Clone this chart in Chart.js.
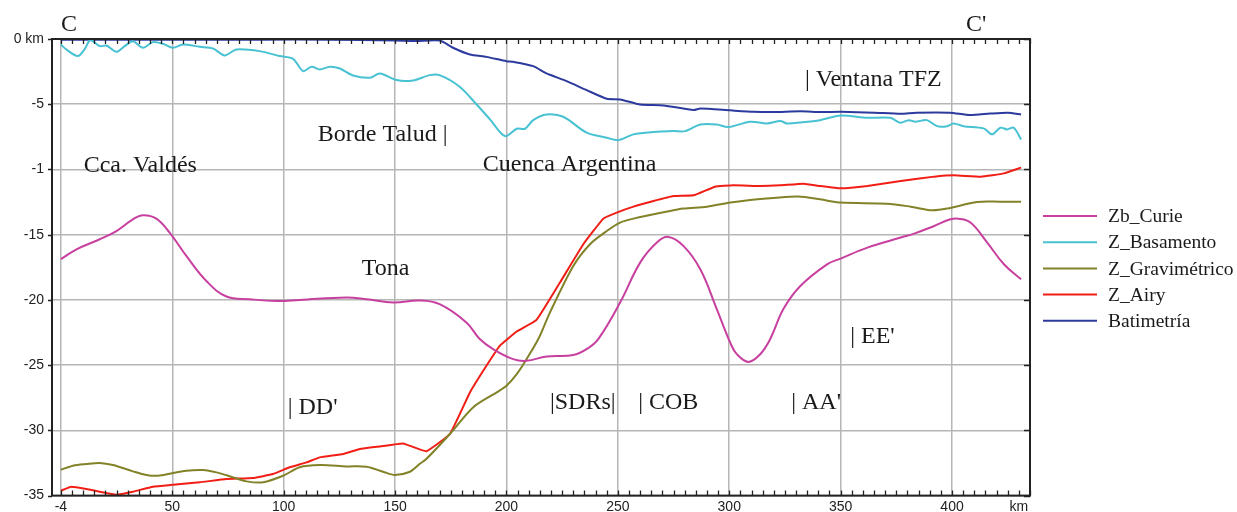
<!DOCTYPE html>
<html>
<head>
<meta charset="utf-8">
<script src="https://cdn.jsdelivr.net/npm/chart.js@4.4.1/dist/chart.umd.min.js"></script>
<style>
  body { margin: 0; background: #fff; }
  canvas { display: block; }
</style>
</head>
<body>
<canvas id="perfil" width="1237" height="512"></canvas>
<script>
// Perfil C - C' : distancia (km) y profundidad (km)
const curieKm = [0, 7, 17.4, 24.9, 32.3, 36.8, 42.8, 48.8, 56.3, 65.3, 74.3, 84.8, 96.8, 107.2, 128.2, 137.2, 149.2, 161, 170, 182, 188, 194, 203, 209, 218, 230, 236, 241.2, 251, 260, 267.5, 272.7, 279.4, 287, 294.4, 300.5, 303.4, 308.6, 313.9, 318.4, 324.3, 331.8, 343.9, 350, 362, 377, 383, 392, 399.3, 403, 408.3, 415.8, 423.3, 431];
const curieZ = [-16.88, -16.12, -15.35, -14.72, -13.82, -13.51, -13.77, -14.84, -16.63, -18.55, -19.74, -19.95, -20.08, -20.0, -19.82, -19.95, -20.2, -20.05, -20.33, -21.73, -23.0, -23.77, -24.54, -24.67, -24.33, -24.23, -23.77, -23.0, -20.2, -17.14, -15.6, -15.17, -15.86, -17.65, -20.7, -23.3, -24.16, -24.75, -24.16, -23.0, -20.7, -18.95, -17.27, -16.83, -15.99, -15.22, -14.92, -14.33, -13.82, -13.77, -14.07, -15.6, -17.27, -18.42];

const basKm = [0, 2.4, 7.6, 10.6, 13.2, 17.4, 20.4, 24.9, 28.6, 32.3, 36.8, 41.3, 45.8, 50.3, 54.8, 62.3, 68.3, 73.5, 78.8, 89.3, 98.2, 104.2, 108.7, 112.5, 116.2, 120.7, 125.2, 131.2, 138.7, 143.2, 150.7, 158, 165.6, 170, 179, 186.6, 192.6, 199.3, 204.6, 208.3, 212, 218, 225.5, 236, 245, 250.2, 257, 266, 275, 280.2, 287, 294.4, 299.6, 309.4, 316.9, 322.9, 325.9, 331.8, 340.8, 350, 362, 372.3, 376.8, 380.5, 383.5, 388.7, 393.3, 397.8, 400.7, 405.2, 414.2, 418, 421.7, 424.7, 427.7, 431];
const basZ = [-0.42, -0.8, -1.31, -0.8, -0.09, -0.55, -0.5, -0.98, -0.55, -0.17, -0.67, -0.24, -0.37, -0.67, -0.42, -0.6, -0.73, -1.26, -0.8, -0.93, -1.31, -1.52, -2.46, -2.13, -2.33, -2.13, -2.26, -2.8, -2.97, -2.64, -3.15, -3.18, -2.77, -2.77, -3.66, -5.02, -6.16, -7.44, -6.88, -6.88, -6.22, -5.78, -5.96, -7.18, -7.57, -7.75, -7.31, -7.13, -7.06, -7.06, -6.55, -6.55, -6.75, -6.34, -6.47, -6.29, -6.47, -6.4, -6.22, -5.86, -6.04, -6.04, -6.42, -6.22, -6.34, -6.22, -6.68, -6.68, -6.47, -6.68, -6.85, -7.31, -6.8, -6.93, -6.8, -7.7];

const gravKm = [0, 5.4, 11.4, 17.4, 23.4, 32.3, 38.3, 43.5, 50.3, 56.3, 63.8, 69.8, 77.3, 83.3, 90.8, 99.7, 107.2, 116.2, 128.2, 137.2, 144.6, 149.9, 156.7, 161, 164, 174.6, 185, 195.6, 200, 204.6, 209, 214.3, 219.5, 230, 237.5, 245, 251, 257, 272, 279.4, 290, 300.5, 309.4, 319.9, 331, 340.8, 350, 370.8, 381.4, 391, 397.8, 411.2, 421.7, 431];
const gravZ = [-33.02, -32.71, -32.58, -32.5, -32.66, -33.14, -33.42, -33.48, -33.27, -33.09, -33.04, -33.22, -33.6, -33.91, -33.98, -33.48, -32.83, -32.66, -32.76, -32.79, -33.17, -33.42, -33.17, -32.58, -32.2, -30.28, -28.24, -27.09, -26.58, -25.69, -24.54, -23.0, -20.97, -17.4, -15.73, -14.72, -14.07, -13.77, -13.23, -13.0, -12.85, -12.54, -12.34, -12.19, -12.08, -12.29, -12.54, -12.62, -12.85, -13.13, -13.0, -12.49, -12.47, -12.47];

const airyKm = [0, 4.7, 11.4, 17.4, 24.9, 32.3, 41.3, 50.3, 62.3, 74.3, 86.2, 95.2, 102.7, 110.2, 116.2, 126.7, 134.2, 143.2, 153.6, 164, 174.6, 183.6, 191, 197, 204.6, 213.5, 224, 234.5, 243.5, 249.5, 257, 266, 275, 284, 293.6, 301.9, 313.9, 322.9, 333.3, 340.8, 350, 362, 377, 392, 401, 413, 423.3, 431];
const airyZ = [-34.62, -34.32, -34.49, -34.7, -34.93, -34.7, -34.32, -34.17, -33.98, -33.73, -33.65, -33.35, -32.83, -32.45, -32.07, -31.81, -31.43, -31.23, -31.0, -31.6, -30.28, -27.09, -25.05, -23.52, -22.42, -21.53, -18.67, -15.73, -13.77, -13.31, -12.85, -12.42, -12.04, -11.98, -11.32, -11.22, -11.27, -11.22, -11.09, -11.27, -11.45, -11.27, -10.89, -10.55, -10.45, -10.55, -10.3, -9.86];

const batiKm = [0, 30, 60, 90, 120, 150, 160, 170, 176, 183.6, 191, 200, 203, 212, 218, 227, 236, 245, 251, 260, 270.5, 284, 287, 300.5, 311, 320, 332, 341, 350, 365, 377, 384, 399, 408, 417, 425, 431];
const batiZ = [-0.05, -0.05, -0.05, -0.05, -0.05, -0.12, -0.15, -0.12, -0.67, -1.19, -1.37, -1.7, -1.75, -2.08, -2.64, -3.23, -3.92, -4.58, -4.63, -5.02, -5.09, -5.45, -5.32, -5.47, -5.58, -5.6, -5.53, -5.6, -5.58, -5.65, -5.73, -5.65, -5.65, -5.83, -5.72, -5.65, -5.78];

const xTicks = [0, 50, 100, 150, 200, 250, 300, 350, 400, 430];
const xTickLabels = ['-4', '50', '100', '150', '200', '250', '300', '350', '400', 'km'];
const yTicks = [0, -5, -10, -15, -20, -25, -30, -35];
const yTickLabels = ['0 km', '-5', '-1', '-15', '-20', '-25', '-30', '-35'];

// etiquetas del perfil (km, profundidad)
const rotulos = [
  { t: 'C', km: 0, z: 1.1 },
  { t: "C'", km: 406.3, z: 1.1 },
  { t: '| Ventana TFZ', km: 334, z: -3.1 },
  { t: 'Borde Talud |', km: 115.3, z: -7.3 },
  { t: 'Cca. Valdés', km: 10.2, z: -9.7 },
  { t: 'Cuenca Argentina', km: 189.4, z: -9.62 },
  { t: 'Tona', km: 135, z: -17.6 },
  { t: "| DD'", km: 101.8, z: -28.26 },
  { t: '|SDRs|', km: 219.5, z: -27.87 },
  { t: '| COB', km: 259.1, z: -27.87 },
  { t: "| AA'", km: 327.8, z: -27.87 },
  { t: "| EE'", km: 354.3, z: -22.8 }
];

const puntos = (xs, ys) => xs.map((x, i) => ({ x: x, y: ys[i] }));

const series = [
  { label: 'Zb_Curie', data: puntos(curieKm, curieZ), borderColor: '#c8409f', tension: 0.4 },
  { label: 'Z_Basamento', data: puntos(basKm, basZ), borderColor: '#48c2d2', tension: 0.3 },
  { label: 'Z_Gravimétrico', data: puntos(gravKm, gravZ), borderColor: '#828228', tension: 0.3 },
  { label: 'Z_Airy', data: puntos(airyKm, airyZ), borderColor: '#f01e14', tension: 0.1 },
  { label: 'Batimetría', data: puntos(batiKm, batiZ), borderColor: '#2c3a9e', tension: 0.2 }
];

const serif = '"Liberation Serif", "Times New Roman", serif';

// marco, marcas menores, rotulos y leyenda
const decoracion = {
  id: 'decoracion',
  afterDraw(chart) {
    const { ctx, chartArea: a, scales } = chart;
    const sx = scales.x, sy = scales.y;
    ctx.save();
    ctx.strokeStyle = '#222';
    ctx.lineWidth = 1.3;
    ctx.beginPath();
    for (let km = 0; km <= 435; km += 5) {
      const px = Math.round(sx.getPixelForValue(km)) + 0.5;
      ctx.moveTo(px, a.top); ctx.lineTo(px, a.top + 5);
      ctx.moveTo(px, a.bottom); ctx.lineTo(px, a.bottom - 5);
    }
    yTicks.forEach(v => {
      const py = Math.round(sy.getPixelForValue(v)) + 0.5;
      ctx.moveTo(a.right, py); ctx.lineTo(a.right - 6, py);
      ctx.moveTo(a.left, py); ctx.lineTo(a.left - 4, py);
    });
    ctx.stroke();

    ctx.lineWidth = 2;
    ctx.strokeRect(a.left, a.top, a.right - a.left, a.bottom - a.top);

    ctx.fillStyle = '#1a1a1a';
    ctx.font = '24px ' + serif;
    ctx.textAlign = 'left';
    ctx.textBaseline = 'middle';
    rotulos.forEach(r => {
      ctx.fillText(r.t, sx.getPixelForValue(r.km), sy.getPixelForValue(r.z));
    });

    ctx.font = '19.5px ' + serif;
    chart.data.datasets.forEach((ds, i) => {
      const y = 216 + i * 26.2;
      ctx.strokeStyle = ds.borderColor;
      ctx.lineWidth = 2;
      ctx.beginPath();
      ctx.moveTo(1043, y); ctx.lineTo(1097, y);
      ctx.stroke();
      ctx.fillText(ds.label, 1108, y + 1);
    });
    ctx.restore();
  }
};

new Chart(document.getElementById('perfil'), {
  type: 'line',
  data: { datasets: series.map(s => Object.assign({ borderWidth: 2, pointRadius: 0, fill: false }, s)) },
  options: {
    responsive: false,
    animation: false,
    layout: { padding: { top: 39, right: 207, left: 0, bottom: 0 } },
    plugins: { legend: { display: false }, tooltip: { enabled: false } },
    scales: {
      x: {
        type: 'linear',
        min: -4,
        max: 435,
        afterBuildTicks: scale => { scale.ticks = xTicks.map(v => ({ value: v })); },
        afterFit: scale => { scale.height = 16; },
        ticks: {
          autoSkip: false,
          maxRotation: 0,
          padding: 3,
          color: '#222',
          font: { family: '"Liberation Sans", Arial, sans-serif', size: 14 },
          callback: v => xTickLabels[xTicks.indexOf(v)]
        },
        grid: {
          drawTicks: false,
          lineWidth: 1.5,
          color: c => (c.tick && c.tick.value > 400) ? 'rgba(0,0,0,0)' : '#b6b6b6'
        },
        border: { display: false }
      },
      y: {
        min: -35,
        max: 0,
        afterBuildTicks: scale => { scale.ticks = yTicks.map(v => ({ value: v })); },
        afterFit: scale => { scale.width = 52; },
        ticks: {
          padding: 8,
          color: '#222',
          font: { family: '"Liberation Sans", Arial, sans-serif', size: 14 },
          callback: v => yTickLabels[yTicks.indexOf(v)]
        },
        grid: { drawTicks: false, lineWidth: 1.5, color: '#b6b6b6' },
        border: { display: false }
      }
    }
  },
  plugins: [decoracion]
});
</script>
</body>
</html>
